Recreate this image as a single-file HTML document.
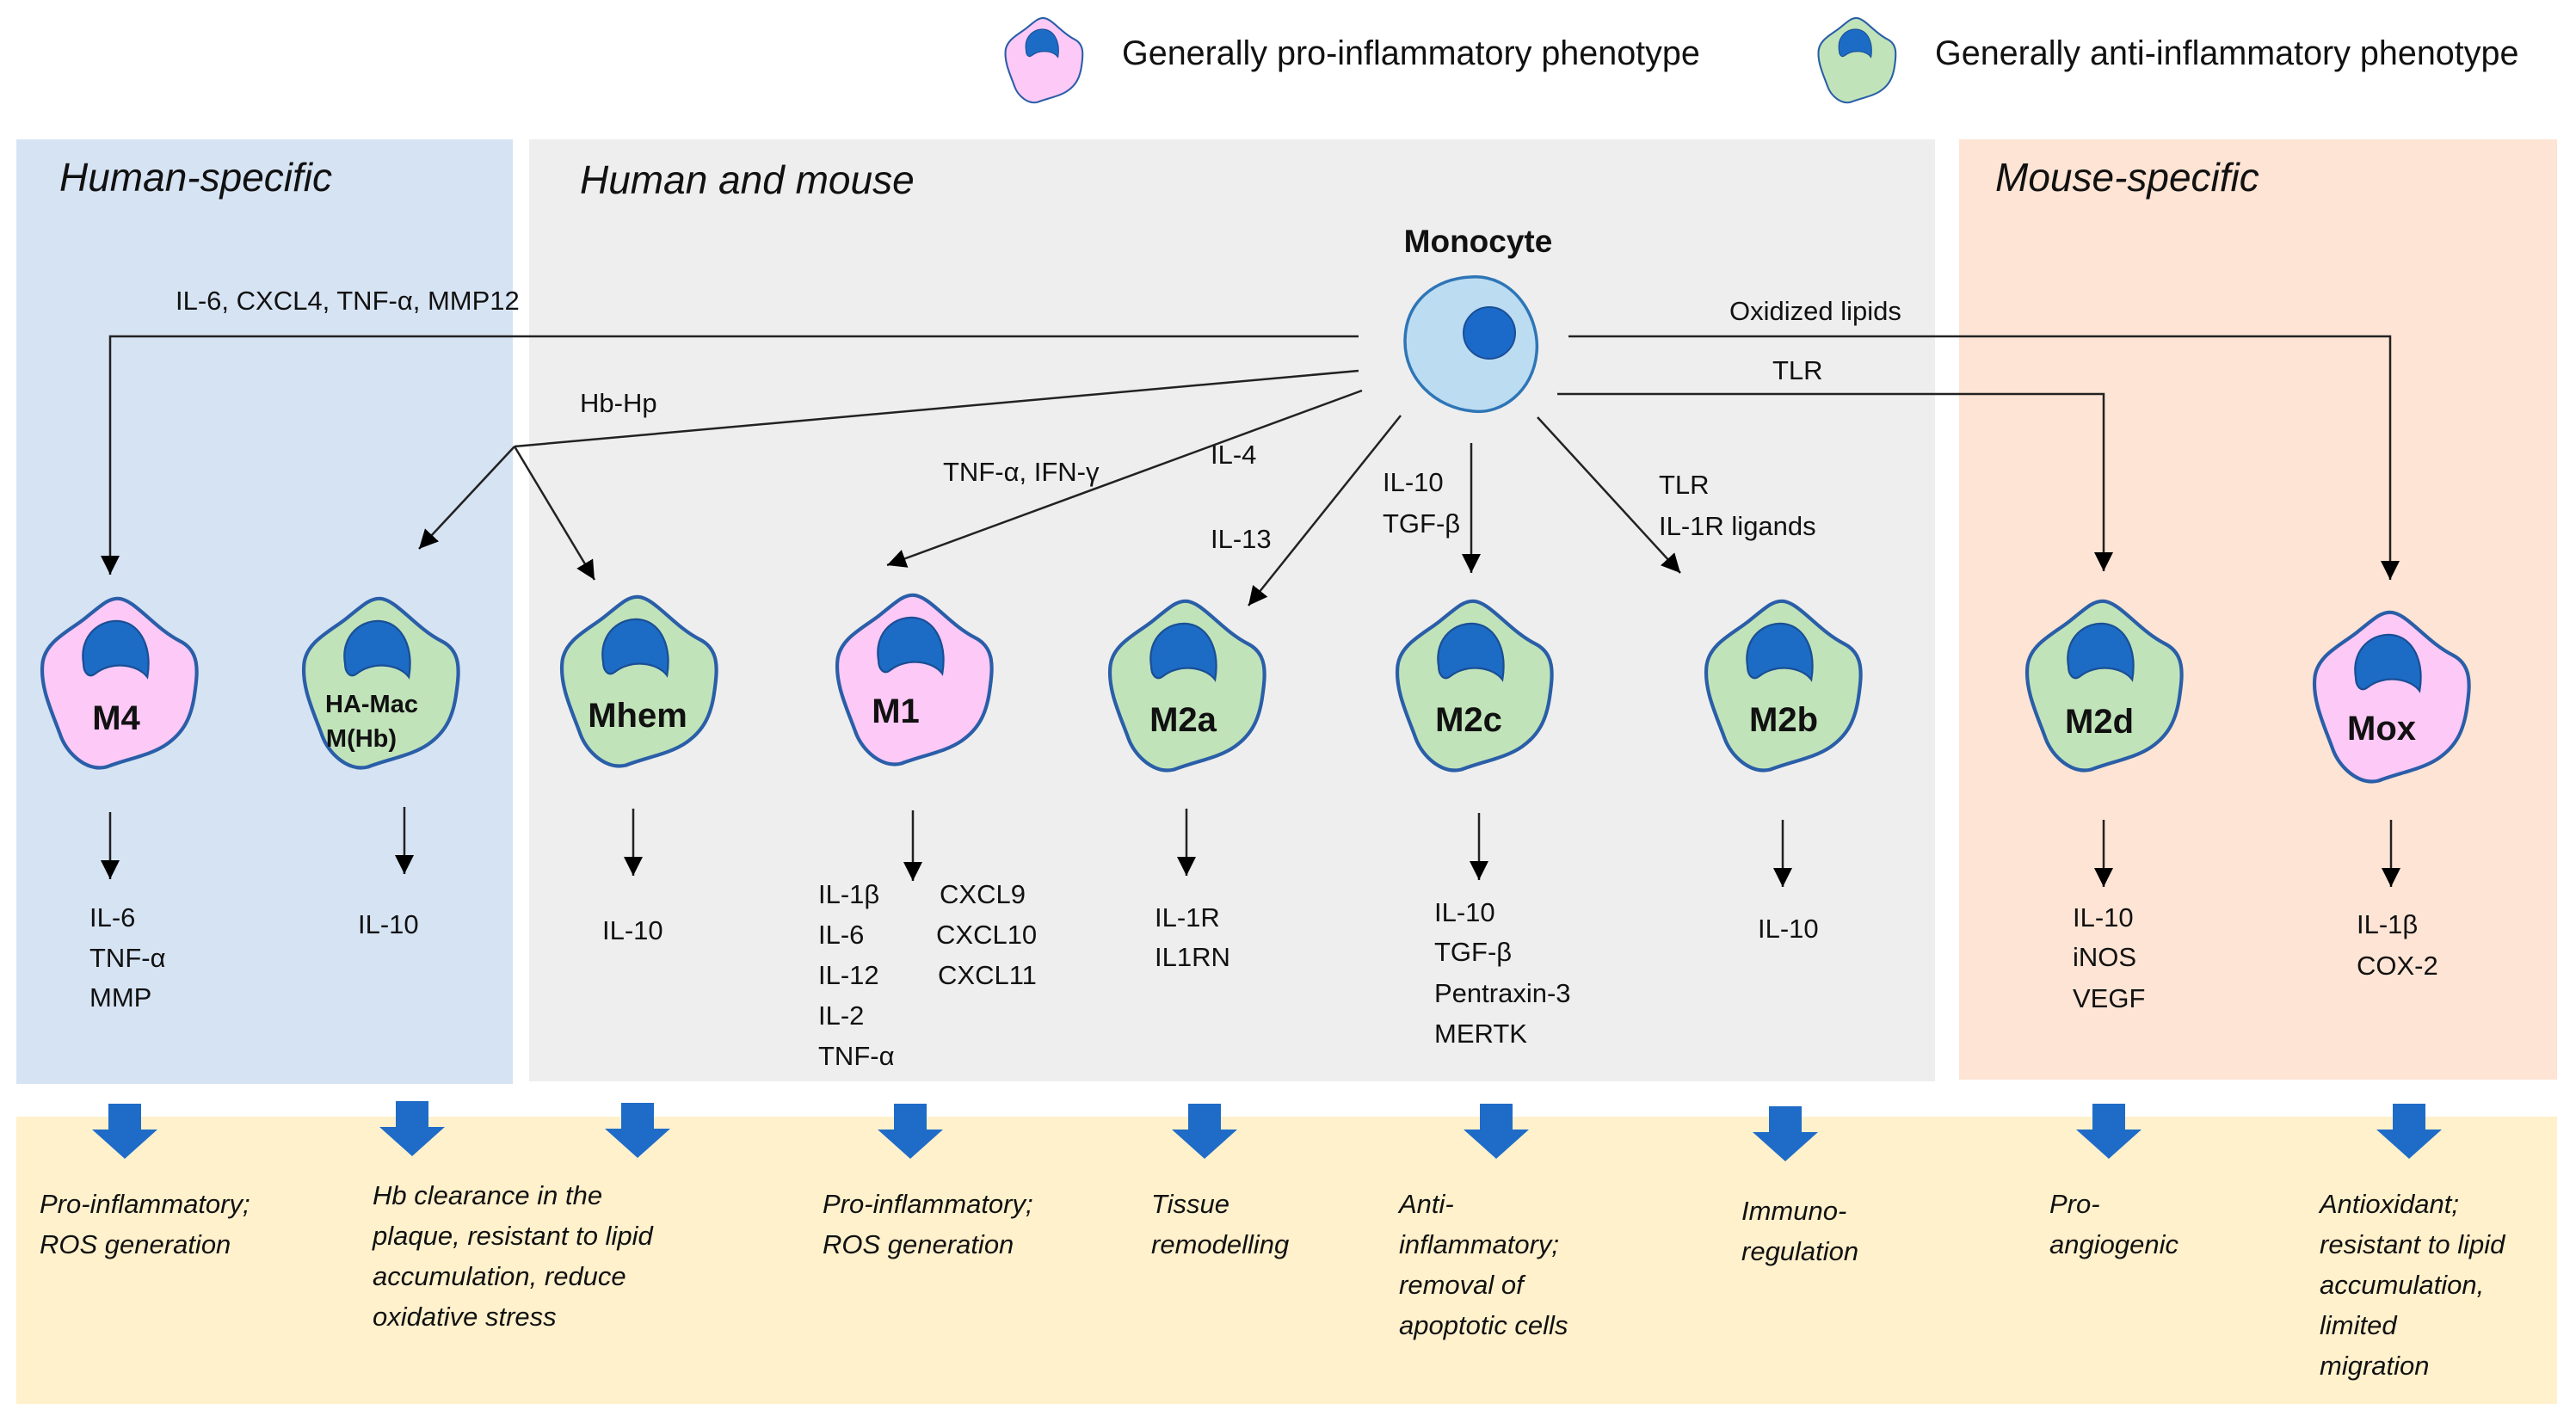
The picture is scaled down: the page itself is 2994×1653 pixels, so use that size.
<!DOCTYPE html>
<html><head><meta charset="utf-8"><style>
html,body{margin:0;padding:0;background:#fff;}
svg{display:block;}
text{font-family:"Liberation Sans",sans-serif;fill:#111;}
.t{font-size:31px;}
.b{font-size:31px;font-style:italic;}
.h{font-size:46px;font-style:italic;}
.c{font-size:40px;font-weight:bold;text-anchor:middle;}
</style></head><body>
<svg width="2994" height="1653" viewBox="0 0 2994 1653" xmlns="http://www.w3.org/2000/svg">
<defs>
<marker id="a" viewBox="0 0 10 10" refX="10" refY="5" markerWidth="22" markerHeight="22" markerUnits="userSpaceOnUse" orient="auto"><path d="M0,0 L10,5 L0,10 z" fill="#000"/></marker>
<g id="cell">
<path d="M50,2 C60,2 72,20 88,28 C100,34 99,46 97,60 C95,75 90,84 80,91 C70,98 56,100 43,105 C31,108 19,97 15,86 C10,72 2,56 4,41 C6,28 20,22 30,14 C40,6 44,2 50,2 Z" stroke="#2a5ea8" stroke-width="2.2"/>
<path d="M29,42 C26,24 40,14 52,16 C64,18 71,32 68,50 C62,42 46,40 36,48 C32,51 29,47 29,42 Z" fill="#1c6cc6" stroke="#1a4f95" stroke-width="1.2"/>
</g>
<g id="barrow"><path d="M-19,0 H19 V30 H38 L0,64 L-38,30 H-19 Z" fill="#1f6cc8"/></g>
</defs>

<rect x="19" y="162" width="577" height="1098" fill="#d6e3f3"/>
<rect x="615" y="162" width="1634" height="1095" fill="#eeeeee"/>
<rect x="2277" y="162" width="695" height="1093" fill="#fde4d4"/>
<rect x="19" y="1298" width="2953" height="334" fill="#fff1cc"/>

<g transform="translate(1165,19) scale(0.95)" fill="#fdc9f6"><use href="#cell"/></g>
<text x="1304" y="75" style="font-size:39.5px">Generally pro-inflammatory phenotype</text>
<g transform="translate(2110,19) scale(0.95)" fill="#c1e3b9"><use href="#cell"/></g>
<text x="2249" y="75" style="font-size:39.5px">Generally anti-inflammatory phenotype</text>

<text class="h" x="69" y="222">Human-specific</text>
<text class="h" x="674" y="225">Human and mouse</text>
<text class="h" x="2319" y="222">Mouse-specific</text>

<text x="1718" y="293" style="font-size:37px;font-weight:bold;text-anchor:middle">Monocyte</text>
<path d="M1709,322 C1760,318 1790,370 1786,410 C1782,455 1745,482 1712,478 C1668,474 1632,440 1633,395 C1634,350 1668,324 1709,322 Z" fill="#bcdcf2" stroke="#2e75b6" stroke-width="3.5"/>
<circle cx="1731" cy="387" r="30" fill="#1b6ac9" stroke="#1a4f95" stroke-width="2"/>

<g stroke="#222" stroke-width="2.5" fill="none">
<polyline points="1579,391 128,391 128,668" marker-end="url(#a)"/>
<polyline points="1823,391 2778,391 2778,674" marker-end="url(#a)"/>
<polyline points="1810,458 2445,458 2445,664" marker-end="url(#a)"/>
<line x1="1579" y1="431" x2="598" y2="519"/>
<line x1="598" y1="519" x2="487" y2="638" marker-end="url(#a)"/>
<line x1="598" y1="519" x2="691" y2="674" marker-end="url(#a)"/>
<line x1="1583" y1="454" x2="1031" y2="657" marker-end="url(#a)"/>
<line x1="1628" y1="483" x2="1451" y2="704" marker-end="url(#a)"/>
<line x1="1710" y1="515" x2="1710" y2="666" marker-end="url(#a)"/>
<line x1="1787" y1="485" x2="1953" y2="666" marker-end="url(#a)"/>
</g>
<text class="t" x="204" y="360">IL-6, CXCL4, TNF-α, MMP12</text>
<text class="t" x="2010" y="372">Oxidized lipids</text>
<text class="t" x="2060" y="441">TLR</text>
<text class="t" x="674" y="479">Hb-Hp</text>
<text class="t" x="1096" y="559">TNF-α, IFN-γ</text>
<text class="t" x="1407" y="539">IL-4</text>
<text class="t" x="1407" y="637">IL-13</text>
<text class="t" x="1607" y="571">IL-10</text>
<text class="t" x="1607" y="619">TGF-β</text>
<text class="t" x="1928" y="574">TLR</text>
<text class="t" x="1928" y="622">IL-1R ligands</text>

<g fill="#fdc9f6"><use href="#cell" transform="translate(42,692) scale(1.9)"/></g>
<text class="c" x="135" y="848">M4</text>
<g fill="#c1e3b9"><use href="#cell" transform="translate(346,692) scale(1.9)"/></g>
<text x="432" y="828" style="font-size:29px;font-weight:bold;text-anchor:middle">HA-Mac</text>
<text x="420" y="868" style="font-size:29px;font-weight:bold;text-anchor:middle">M(Hb)</text>
<g fill="#c1e3b9"><use href="#cell" transform="translate(646,690) scale(1.9)"/></g>
<text class="c" x="741" y="845">Mhem</text>
<g fill="#fdc9f6"><use href="#cell" transform="translate(966,688) scale(1.9)"/></g>
<text class="c" x="1041" y="840">M1</text>
<g fill="#c1e3b9"><use href="#cell" transform="translate(1283,695) scale(1.9)"/></g>
<text class="c" x="1375" y="850">M2a</text>
<g fill="#c1e3b9"><use href="#cell" transform="translate(1617,695) scale(1.9)"/></g>
<text class="c" x="1707" y="850">M2c</text>
<g fill="#c1e3b9"><use href="#cell" transform="translate(1976,695) scale(1.9)"/></g>
<text class="c" x="2073" y="850">M2b</text>
<g fill="#c1e3b9"><use href="#cell" transform="translate(2349,695) scale(1.9)"/></g>
<text class="c" x="2440" y="852">M2d</text>
<g fill="#fdc9f6"><use href="#cell" transform="translate(2683,708) scale(1.9)"/></g>
<text class="c" x="2768" y="860">Mox</text>

<g stroke="#222" stroke-width="2.5">
<line x1="128" y1="944" x2="128" y2="1022" marker-end="url(#a)"/>
<line x1="470" y1="938" x2="470" y2="1016" marker-end="url(#a)"/>
<line x1="736" y1="940" x2="736" y2="1018" marker-end="url(#a)"/>
<line x1="1061" y1="942" x2="1061" y2="1024" marker-end="url(#a)"/>
<line x1="1379" y1="940" x2="1379" y2="1018" marker-end="url(#a)"/>
<line x1="1719" y1="945" x2="1719" y2="1023" marker-end="url(#a)"/>
<line x1="2072" y1="953" x2="2072" y2="1031" marker-end="url(#a)"/>
<line x1="2445" y1="953" x2="2445" y2="1031" marker-end="url(#a)"/>
<line x1="2779" y1="953" x2="2779" y2="1031" marker-end="url(#a)"/>
</g>

<text class="t" x="104" y="1077">IL-6</text>
<text class="t" x="104" y="1124">TNF-α</text>
<text class="t" x="104" y="1170">MMP</text>
<text class="t" x="416" y="1085">IL-10</text>
<text class="t" x="700" y="1092">IL-10</text>
<text class="t" x="951" y="1050">IL-1β</text>
<text class="t" x="951" y="1097">IL-6</text>
<text class="t" x="951" y="1144">IL-12</text>
<text class="t" x="951" y="1191">IL-2</text>
<text class="t" x="951" y="1238">TNF-α</text>
<text class="t" x="1092" y="1050">CXCL9</text>
<text class="t" x="1088" y="1097">CXCL10</text>
<text class="t" x="1090" y="1144">CXCL11</text>
<text class="t" x="1342" y="1077">IL-1R</text>
<text class="t" x="1342" y="1123">IL1RN</text>
<text class="t" x="1667" y="1071">IL-10</text>
<text class="t" x="1667" y="1117">TGF-β</text>
<text class="t" x="1667" y="1165">Pentraxin-3</text>
<text class="t" x="1667" y="1212">MERTK</text>
<text class="t" x="2043" y="1090">IL-10</text>
<text class="t" x="2409" y="1077">IL-10</text>
<text class="t" x="2409" y="1123">iNOS</text>
<text class="t" x="2409" y="1171">VEGF</text>
<text class="t" x="2739" y="1085">IL-1β</text>
<text class="t" x="2739" y="1133">COX-2</text>

<use href="#barrow" x="145" y="1283"/>
<use href="#barrow" x="479" y="1280"/>
<use href="#barrow" x="741" y="1282"/>
<use href="#barrow" x="1058" y="1283"/>
<use href="#barrow" x="1400" y="1283"/>
<use href="#barrow" x="1739" y="1283"/>
<use href="#barrow" x="2075" y="1286"/>
<use href="#barrow" x="2451" y="1283"/>
<use href="#barrow" x="2800" y="1283"/>

<text class="b" x="46" y="1410">Pro-inflammatory;</text>
<text class="b" x="46" y="1457">ROS generation</text>
<text class="b" x="433" y="1400">Hb clearance in the</text>
<text class="b" x="433" y="1447">plaque, resistant to lipid</text>
<text class="b" x="433" y="1494">accumulation, reduce</text>
<text class="b" x="433" y="1541">oxidative stress</text>
<text class="b" x="956" y="1410">Pro-inflammatory;</text>
<text class="b" x="956" y="1457">ROS generation</text>
<text class="b" x="1338" y="1410">Tissue</text>
<text class="b" x="1338" y="1457">remodelling</text>
<text class="b" x="1626" y="1410">Anti-</text>
<text class="b" x="1626" y="1457">inflammatory;</text>
<text class="b" x="1626" y="1504">removal of</text>
<text class="b" x="1626" y="1551">apoptotic cells</text>
<text class="b" x="2024" y="1418">Immuno-</text>
<text class="b" x="2024" y="1465">regulation</text>
<text class="b" x="2382" y="1410">Pro-</text>
<text class="b" x="2382" y="1457">angiogenic</text>
<text class="b" x="2696" y="1410">Antioxidant;</text>
<text class="b" x="2696" y="1457">resistant to lipid</text>
<text class="b" x="2696" y="1504">accumulation,</text>
<text class="b" x="2696" y="1551">limited</text>
<text class="b" x="2696" y="1598">migration</text>
</svg>
</body></html>
